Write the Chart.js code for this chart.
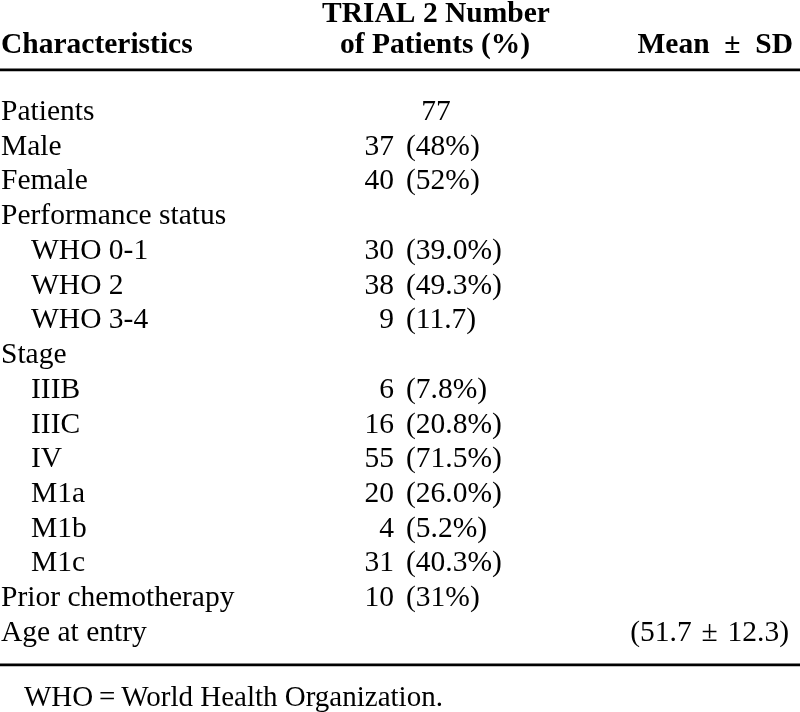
<!DOCTYPE html>
<html>
<head>
<meta charset="utf-8">
<script src="https://cdn.jsdelivr.net/npm/chart.js@4/dist/chart.umd.min.js"></script>
<style>
  html, body { margin: 0; padding: 0; background: #ffffff; }
  #wrap { width: 800px; height: 712px; }
</style>
</head>
<body>
<div id="wrap"><canvas id="c" width="800" height="712"></canvas></div>
<script>
// ---- Table content (data) ----
const columnHeaders = ['Characteristics', ['TRIAL 2 Number', 'of Patients (%)'], 'Mean\u2002\u00B1\u2002SD'];
const characteristics = ['Patients', 'Male', 'Female', 'Performance status', 'WHO 0-1', 'WHO 2', 'WHO 3-4',
  'Stage', 'IIIB', 'IIIC', 'IV', 'M1a', 'M1b', 'M1c', 'Prior chemotherapy', 'Age at entry'];
const levels = [0, 0, 0, 0, 1, 1, 1, 0, 1, 1, 1, 1, 1, 1, 0, 0];
const patientCounts = [77, 37, 40, null, 30, 38, 9, null, 6, 16, 55, 20, 4, 31, 10, null];
const patientPercents = [null, '48%', '52%', null, '39.0%', '49.3%', '11.7', null, '7.8%', '20.8%', '71.5%',
  '26.0%', '5.2%', '40.3%', '31%', null];
const ageMeans = [null, null, null, null, null, null, null, null, null, null, null, null, null, null, null, 51.7];
const ageSDs = [null, null, null, null, null, null, null, null, null, null, null, null, null, null, null, 12.3];
const footnote = 'WHO\u2009=\u2009World Health Organization.';

// ---- Layout (row grid in value units of the y scale) ----
const ROW0 = 120, STEP = 34.73, YMIN = -3.4, YMAX = 17;
const padTop = ROW0 + YMIN * STEP;
const padBottom = 712 - (ROW0 + YMAX * STEP);
const HEADER_ROWS = [-2.83, -1.92];
const TOP_RULE = -1.445, BOTTOM_RULE = 15.69, FOOT_ROW = 16.87;
const FONT = '"Liberation Serif", "Times New Roman", serif';

const tablePlugin = {
  id: 'tableDraw',
  beforeDraw(chart) {
    const c = chart.ctx;
    c.save();
    c.fillStyle = '#ffffff';
    c.fillRect(0, 0, chart.width, chart.height);
    c.restore();
  },
  afterDraw(chart) {
    const c = chart.ctx, xs = chart.scales.x, ys = chart.scales.y;
    const X = v => xs.getPixelForValue(v), Y = v => ys.getPixelForValue(v);
    c.save();
    c.fillStyle = '#000';
    c.textBaseline = 'alphabetic';

    // headers
    c.font = 'bold 29.5px ' + FONT;
    c.textAlign = 'left';
    c.fillText(columnHeaders[0], X(1), Y(HEADER_ROWS[1]));
    c.textAlign = 'center';
    c.fillText(columnHeaders[1][0], X(436), Y(HEADER_ROWS[0]));
    c.fillText(columnHeaders[1][1], X(435), Y(HEADER_ROWS[1]));
    c.textAlign = 'right';
    c.fillText(columnHeaders[2], X(793), Y(HEADER_ROWS[1]));

    // rules
    c.strokeStyle = '#000';
    c.lineWidth = 2.8;
    c.beginPath();
    c.moveTo(X(0), Y(TOP_RULE)); c.lineTo(X(800), Y(TOP_RULE));
    c.moveTo(X(0), Y(BOTTOM_RULE)); c.lineTo(X(800), Y(BOTTOM_RULE));
    c.stroke();

    // body
    c.font = '29.5px ' + FONT;
    characteristics.forEach((label, i) => {
      const y = Y(i);
      c.textAlign = 'left';
      c.fillText(label, X(levels[i] ? 31 : 1), y);
      if (patientCounts[i] !== null) {
        if (patientPercents[i] === null) {
          c.textAlign = 'center';
          c.fillText(String(patientCounts[i]), X(436), y);
        } else {
          c.textAlign = 'right';
          c.fillText(String(patientCounts[i]), X(394), y);
          c.textAlign = 'left';
          c.fillText('(' + patientPercents[i] + ')', X(406), y);
        }
      }
      if (ageMeans[i] !== null) {
        c.textAlign = 'right';
        c.fillText('(' + ageMeans[i].toFixed(1) + '\u2004\u00B1\u2004' + ageSDs[i].toFixed(1) + ')', X(789), y);
      }
    });

    // footnote
    c.font = '29px ' + FONT;
    c.textAlign = 'left';
    c.fillText(footnote, X(24), Y(FOOT_ROW));
    c.restore();
  }
};

new Chart(document.getElementById('c'), {
  type: 'scatter',
  data: {
    datasets: [{
      data: characteristics.map((_, i) => ({ x: 0, y: i })),
      pointRadius: 0,
      showLine: false
    }]
  },
  options: {
    responsive: false,
    maintainAspectRatio: false,
    animation: false,
    events: [],
    layout: { padding: { top: padTop, bottom: padBottom, left: 0, right: 0 } },
    scales: {
      x: { type: 'linear', min: 0, max: 800, display: false },
      y: { type: 'linear', reverse: true, min: YMIN, max: YMAX, display: false }
    },
    plugins: { legend: { display: false }, tooltip: { enabled: false } }
  },
  plugins: [tablePlugin]
});
</script>
</body>
</html>
